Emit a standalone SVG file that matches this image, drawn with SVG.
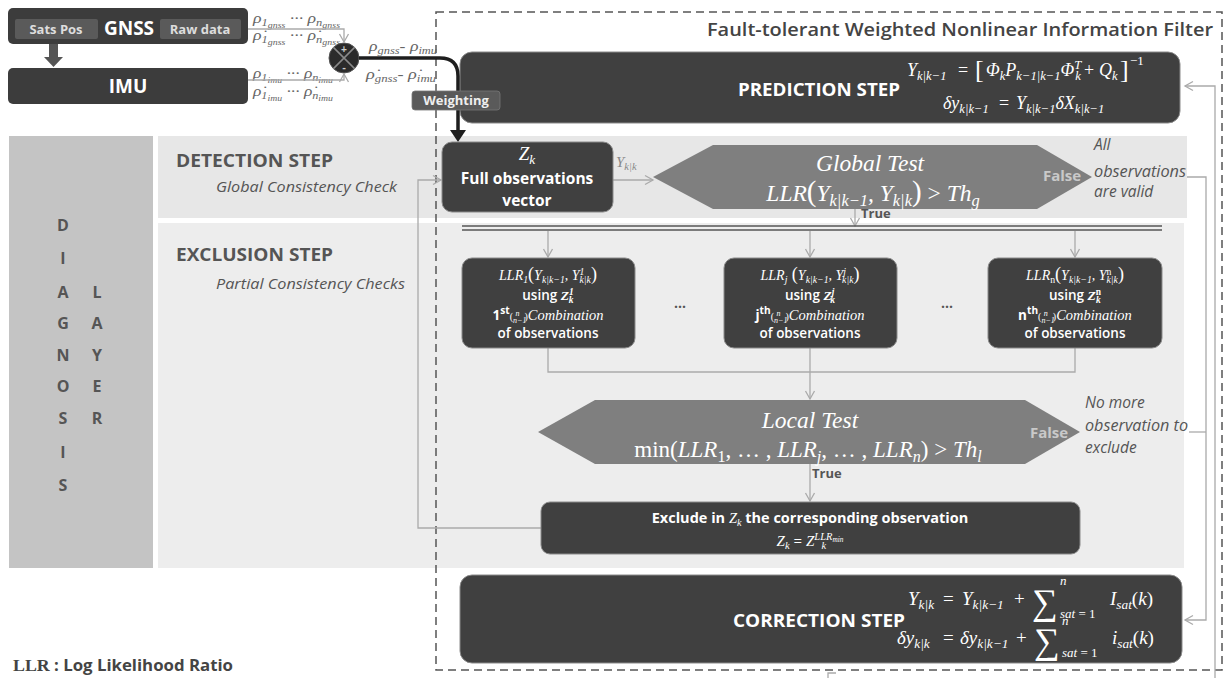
<svg xmlns="http://www.w3.org/2000/svg" width="1229" height="678" viewBox="0 0 1229 678">
<defs>
<style>
.sans{font-family:"Open Sans","Liberation Sans",sans-serif}
.m{font-family:"Liberation Serif","DejaVu Serif",serif;font-style:italic}
.r{font-style:normal}
.dk{fill:#404040;stroke:#8a8a8a;stroke-width:1}
.hex{fill:#7f7f7f}
.wb{fill:#fff;font-weight:700}
.lbl{fill:#555;font-weight:700}
.it{fill:#555;font-style:italic}
.conn{fill:none;stroke:#aaaaaa;stroke-width:1.3}
.sub{font-size:70%;baseline-shift:-0.3em}
.sup{font-size:70%;baseline-shift:0.55em}
.ss{font-size:80%;baseline-shift:-0.25em}
.ml{fill:#fff}
.fal{fill:#c9c9c9;font-weight:700;font-size:15px}
.dg{fill:#555;font-weight:700;font-size:16px;text-anchor:middle}
.sig{font-family:"Liberation Serif","DejaVu Serif",serif;fill:#fff;font-size:36px}
.eq{font-size:19px}
.lim{font-size:13px}
</style>
<marker id="chev" markerWidth="12" markerHeight="12" refX="9" refY="5" orient="auto" markerUnits="userSpaceOnUse" viewBox="0 0 12 10">
<path d="M1,0.5 L9,5 L1,9.5" fill="none" stroke="#aaaaaa" stroke-width="1.3"/>
</marker>
</defs>

<rect width="1229" height="678" fill="#fff"/>

<!-- diagnosis layer bands -->
<g id="bands">
<rect x="9" y="136" width="144" height="432" fill="#c4c4c4"/>
<rect x="158" y="136" width="1029" height="82" fill="#e7e7e7"/>
<rect x="158" y="223" width="1026" height="345" fill="#ededed"/>
</g>

<g id="diagnosis-label" class="sans">
<text class="dg" x="63" y="231">D</text>
<text class="dg" x="63" y="264">I</text>
<text class="dg" x="63" y="298">A</text>
<text class="dg" x="63" y="329">G</text>
<text class="dg" x="63" y="361">N</text>
<text class="dg" x="63" y="392">O</text>
<text class="dg" x="63" y="424">S</text>
<text class="dg" x="63" y="458">I</text>
<text class="dg" x="63" y="491">S</text>
<text class="dg" x="97" y="298">L</text>
<text class="dg" x="97" y="329">A</text>
<text class="dg" x="97" y="361">Y</text>
<text class="dg" x="97" y="392">E</text>
<text class="dg" x="97" y="424">R</text>
</g>

<g id="step-labels" class="sans">
<text class="lbl" x="176" y="167" font-size="17" textLength="157" lengthAdjust="spacingAndGlyphs">DETECTION STEP</text>
<text class="it" x="216" y="192" font-size="15" textLength="181" lengthAdjust="spacingAndGlyphs">Global Consistency Check</text>
<text class="lbl" x="176" y="261" font-size="17" textLength="157" lengthAdjust="spacingAndGlyphs">EXCLUSION STEP</text>
<text class="it" x="216" y="289" font-size="15" textLength="189" lengthAdjust="spacingAndGlyphs">Partial Consistency Checks</text>
</g>

<!-- filter frame -->
<rect id="filter-frame" x="436" y="12" width="786" height="658" fill="none" stroke="#555" stroke-width="1.5" stroke-dasharray="8 5"/>
<text id="filter-title" class="sans" x="1213" y="36" font-size="18" font-weight="600" fill="#444" text-anchor="end" textLength="506" lengthAdjust="spacingAndGlyphs">Fault-tolerant Weighted Nonlinear Information Filter</text>

<!-- sensors -->
<g id="gnss" class="sans">
<rect x="8" y="8" width="240" height="36" rx="5" fill="#3c3c3c"/>
<rect x="15" y="19" width="83" height="20" rx="2" fill="#5a5a5a"/>
<rect x="160" y="19" width="81" height="20" rx="2" fill="#5a5a5a"/>
<text x="56" y="34" font-size="13" font-weight="700" fill="#ddd" text-anchor="middle">Sats Pos</text>
<text x="129" y="35" font-size="19" font-weight="700" fill="#fff" text-anchor="middle">GNSS</text>
<text x="200" y="34" font-size="13" font-weight="700" fill="#ddd" text-anchor="middle">Raw data</text>
</g>
<g id="gnss-to-imu">
<rect x="49" y="44" width="9" height="14" fill="#555"/>
<polygon points="44,57 63,57 53.5,67" fill="#555"/>
</g>
<g id="imu" class="sans">
<rect x="8" y="68" width="240" height="36" rx="5" fill="#3c3c3c"/>
<text x="128" y="93" font-size="19" font-weight="700" fill="#fff" text-anchor="middle">IMU</text>
</g>

<g id="pseudoranges" class="m" fill="#666" font-size="14">
<text x="253" y="23" textLength="87" lengthAdjust="spacingAndGlyphs">ρ<tspan class="sub">1<tspan class="ss">gnss</tspan></tspan> ··· ρ<tspan class="sub">n<tspan class="ss">gnss</tspan></tspan></text>
<text x="253" y="40" textLength="87" lengthAdjust="spacingAndGlyphs">ρ̇<tspan class="sub">1<tspan class="ss">gnss</tspan></tspan> ··· ρ̇<tspan class="sub">n<tspan class="ss">gnss</tspan></tspan></text>
<text x="253" y="78" textLength="80" lengthAdjust="spacingAndGlyphs">ρ<tspan class="sub">1<tspan class="ss">imu</tspan></tspan> ··· ρ<tspan class="sub">n<tspan class="ss">imu</tspan></tspan></text>
<text x="253" y="96" textLength="80" lengthAdjust="spacingAndGlyphs">ρ̇<tspan class="sub">1<tspan class="ss">imu</tspan></tspan> ··· ρ̇<tspan class="sub">n<tspan class="ss">imu</tspan></tspan></text>
<text x="369" y="51" textLength="68" lengthAdjust="spacingAndGlyphs">ρ<tspan class="sub">gnss</tspan>- ρ<tspan class="sub">imu</tspan></text>
<text x="366" y="79" textLength="70" lengthAdjust="spacingAndGlyphs">ρ̇<tspan class="sub">gnss</tspan>- ρ̇<tspan class="sub">imu</tspan></text>
</g>

<g id="sum-junction">
<circle cx="344" cy="58" r="15" fill="#2b2b2b" stroke="#555" stroke-width="1"/>
<path d="M333.4,47.4 L354.6,68.6 M354.6,47.4 L333.4,68.6" stroke="#8a8a8a" stroke-width="1.5"/>
<text x="344" y="53" font-family="Liberation Sans,sans-serif" font-size="10" font-weight="700" fill="#ccc" text-anchor="middle">+</text>
<text x="344" y="71" font-family="Liberation Sans,sans-serif" font-size="11" font-weight="700" fill="#ccc" text-anchor="middle">-</text>
</g>

<g id="prediction-step">
<rect class="dk" x="460" y="52" width="720" height="71" rx="12"/>
<text class="sans wb" x="738" y="96" font-size="18" textLength="162" lengthAdjust="spacingAndGlyphs">PREDICTION STEP</text>
<g class="m ml" font-size="18">
<text x="907" y="76">Y<tspan class="sub">k|k−1</tspan></text>
<text class="r" x="958" y="76">=</text>
<text class="r" x="975" y="78" font-size="26">[</text>
<text x="986" y="76">Φ<tspan class="sub">k</tspan>P<tspan class="sub">k−1|k−1</tspan>Φ<tspan class="sup">T</tspan><tspan class="sub" dx="-6">k</tspan></text>
<text class="r" x="1084" y="76">+</text>
<text x="1099" y="76">Q<tspan class="sub">k</tspan></text>
<text class="r" x="1120" y="78" font-size="26">]</text>
<text class="r" x="1130" y="65" font-size="13">−1</text>
<text x="943" y="109">δy<tspan class="sub">k|k−1</tspan></text>
<text class="r" x="999" y="109">=</text>
<text x="1016" y="109">Y<tspan class="sub">k|k−1</tspan>δX<tspan class="sub">k|k−1</tspan></text>
</g>
</g>

<!-- connectors -->
<g id="connectors">
<path class="conn" d="M248,29 H344 V42" marker-end="url(#chev)"/>
<path class="conn" d="M248,80 H344 V74" marker-end="url(#chev)"/>
<path d="M359,58 H440 Q458,58 458,76 V132" fill="none" stroke="#1e1e1e" stroke-width="3.5"/>
<polygon points="450,130 466,130 458,142" fill="#1e1e1e"/>
<path class="conn" d="M541,528 H418 V180 H441" marker-end="url(#chev)"/>
<path class="conn" d="M613,180 H653" marker-end="url(#chev)"/>
<path class="conn" d="M855,209 V226" marker-end="url(#chev)"/>
<path d="M462,226 H1162 M462,230 H1162" stroke="#555" stroke-width="1.4"/>
<path class="conn" d="M548,231 V257" marker-end="url(#chev)"/>
<path class="conn" d="M810,231 V257" marker-end="url(#chev)"/>
<path class="conn" d="M1075,231 V257" marker-end="url(#chev)"/>
<path class="conn" d="M548,348 V372 H1075 V348"/>
<path class="conn" d="M810,348 V399" marker-end="url(#chev)"/>
<path class="conn" d="M810,464 V501" marker-end="url(#chev)"/>
<path class="conn" d="M1187,177 H1206 V620 H1185" marker-end="url(#chev)"/>
<path class="conn" d="M1189,432 H1206"/>
<path class="conn" d="M1215,678 V86 H1185" marker-end="url(#chev)"/>
<path class="conn" d="M836,673 H828 V678"/>
</g>

<g id="weighting" class="sans">
<rect x="412" y="91" width="88" height="19" rx="3" fill="#5a5a5a" stroke="#777" stroke-width="0.8"/>
<text x="456" y="105" font-size="13" font-weight="700" fill="#eee" text-anchor="middle">Weighting</text>
</g>

<g id="observations-vector">
<rect class="dk" x="442" y="142" width="171" height="70" rx="10"/>
<text class="m ml" x="527" y="160" font-size="19" text-anchor="middle">Z<tspan class="sub">k</tspan></text>
<text class="sans wb" x="527" y="184" font-size="15.5" text-anchor="middle">Full observations</text>
<text class="sans wb" x="527" y="206" font-size="15.5" text-anchor="middle">vector</text>
<text class="m" x="616" y="167" font-size="15" fill="#888">Y<tspan class="sub">k|k</tspan></text>
</g>

<g id="global-test">
<polygon class="hex" points="653,177 713,145 1037,145 1092,177 1037,209 713,209"/>
<text class="m ml" x="870" y="171" font-size="23.5" text-anchor="middle">Global Test</text>
<text class="m ml" x="873" y="201" font-size="23.5" text-anchor="middle">LLR<tspan class="r" font-size="29">(</tspan>Y<tspan class="sub">k|k−1</tspan>, Y<tspan class="sub">k|k</tspan><tspan class="r" font-size="29">)</tspan><tspan class="r"> &gt; </tspan>Th<tspan class="sub">g</tspan></text>
<text class="sans fal" x="1043" y="181">False</text>
<text class="sans lbl" x="861" y="218" font-size="13">True</text>
<text class="sans it" x="1094" y="150" font-size="15.5">All</text>
<text class="sans it" x="1094" y="177" font-size="15.5" textLength="92" lengthAdjust="spacingAndGlyphs">observations</text>
<text class="sans it" x="1094" y="197" font-size="15.5">are valid</text>
</g>

<g id="partial-test-1">
<rect class="dk" x="462" y="258" width="173" height="90" rx="10"/>
<text class="m ml" x="548" y="280" font-size="14" text-anchor="middle">LLR<tspan class="sub">1</tspan><tspan class="r" font-size="18">(</tspan>Y<tspan class="sub">k|k−1</tspan>, Y<tspan class="sup">1</tspan><tspan class="sub" dx="-5">k|k</tspan><tspan class="r" font-size="18">)</tspan></text>
<text class="sans ml" x="548" y="300" font-size="13.5" font-weight="600" text-anchor="middle">using <tspan class="m">Z</tspan><tspan class="m sup">1</tspan><tspan class="m sub" dx="-5">k</tspan></text>
<text class="ml" x="548" y="320" font-size="14.5" text-anchor="middle"><tspan class="sans" font-weight="700" font-size="13.5">1</tspan><tspan class="sans sup" font-weight="700">st</tspan><tspan class="m r" font-size="10">(</tspan><tspan class="m" font-size="8" style="baseline-shift:-3px">n−1</tspan><tspan class="m" font-size="8" dx="-11" style="baseline-shift:4px">n</tspan><tspan class="m r" font-size="10" dx="5">)</tspan><tspan class="m">Combination</tspan></text>
<text class="sans ml" x="548" y="338" font-size="13.5" font-weight="600" text-anchor="middle">of  observations</text>
</g>

<g id="partial-test-j">
<rect class="dk" x="724" y="258" width="173" height="90" rx="10"/>
<text class="m ml" x="810" y="280" font-size="14" text-anchor="middle">LLR<tspan class="sub">j</tspan><tspan class="r" font-size="18"> (</tspan>Y<tspan class="sub">k|k−1</tspan>, Y<tspan class="sup">j</tspan><tspan class="sub" dx="-4">k|k</tspan><tspan class="r" font-size="18">)</tspan></text>
<text class="sans ml" x="810" y="300" font-size="13.5" font-weight="600" text-anchor="middle">using <tspan class="m">Z</tspan><tspan class="m sup">j</tspan><tspan class="m sub" dx="-4">k</tspan></text>
<text class="ml" x="810" y="320" font-size="14.5" text-anchor="middle"><tspan class="sans" font-weight="700" font-size="13.5">j</tspan><tspan class="sans sup" font-weight="700">th</tspan><tspan class="m r" font-size="10">(</tspan><tspan class="m" font-size="8" style="baseline-shift:-3px">n−1</tspan><tspan class="m" font-size="8" dx="-11" style="baseline-shift:4px">n</tspan><tspan class="m r" font-size="10" dx="5">)</tspan><tspan class="m">Combination</tspan></text>
<text class="sans ml" x="810" y="338" font-size="13.5" font-weight="600" text-anchor="middle">of observations</text>
</g>

<g id="partial-test-n">
<rect class="dk" x="988" y="258" width="174" height="90" rx="10"/>
<text class="m ml" x="1075" y="280" font-size="14" text-anchor="middle">LLR<tspan class="sub r">n</tspan><tspan class="r" font-size="18">(</tspan>Y<tspan class="sub">k|k−1</tspan>, Y<tspan class="sup r">n</tspan><tspan class="sub" dx="-5">k|k</tspan><tspan class="r" font-size="18">)</tspan></text>
<text class="sans ml" x="1075" y="300" font-size="13.5" font-weight="600" text-anchor="middle">using <tspan class="m">Z</tspan><tspan class="m r sup">n</tspan><tspan class="m sub" dx="-5">k</tspan></text>
<text class="ml" x="1075" y="320" font-size="14.5" text-anchor="middle"><tspan class="sans" font-weight="700" font-size="13.5">n</tspan><tspan class="sans sup" font-weight="700">th</tspan><tspan class="m r" font-size="10">(</tspan><tspan class="m" font-size="8" style="baseline-shift:-3px">n−1</tspan><tspan class="m" font-size="8" dx="-11" style="baseline-shift:4px">n</tspan><tspan class="m r" font-size="10" dx="5">)</tspan><tspan class="m">Combination</tspan></text>
<text class="sans ml" x="1075" y="338" font-size="13.5" font-weight="600" text-anchor="middle">of observations</text>
</g>

<g id="ellipses" class="sans" fill="#555" font-size="14" font-weight="700" text-anchor="middle">
<text x="680" y="308">...</text>
<text x="947" y="308">...</text>
</g>

<g id="local-test">
<polygon class="hex" points="538,432 595,400 1025,400 1080,432 1025,464 595,464"/>
<text class="m ml" x="810" y="428" font-size="23.5" text-anchor="middle">Local Test</text>
<text class="m ml" x="808" y="457" font-size="23" text-anchor="middle"><tspan class="r">min(</tspan>LLR<tspan class="sub r">1</tspan><tspan class="r">, … , </tspan>LLR<tspan class="sub">j</tspan><tspan class="r">, … , </tspan>LLR<tspan class="sub">n</tspan><tspan class="r">) &gt; </tspan>Th<tspan class="sub">l</tspan></text>
<text class="sans fal" x="1030" y="438">False</text>
<text class="sans lbl" x="812" y="478" font-size="13">True</text>
<text class="sans it" x="1085" y="408" font-size="15.5">No more</text>
<text class="sans it" x="1085" y="431" font-size="15.5" textLength="103" lengthAdjust="spacingAndGlyphs">observation to</text>
<text class="sans it" x="1085" y="453" font-size="15.5">exclude</text>
</g>

<g id="exclusion">
<rect class="dk" x="541" y="502" width="539" height="52" rx="9"/>
<text class="sans wb" x="810" y="523" font-size="14.5" text-anchor="middle">Exclude in <tspan class="m" font-weight="400">Z<tspan class="sub">k</tspan></tspan> the corresponding observation</text>
<text class="ml" x="810" y="546" font-size="15" text-anchor="middle"><tspan class="m">Z<tspan class="sub">k</tspan></tspan><tspan class="sans"> = </tspan><tspan class="m">Z<tspan class="sup">LLR<tspan class="sub">min</tspan></tspan><tspan class="sub" dx="-22">k</tspan></tspan></text>
</g>

<g id="correction-step">
<rect class="dk" x="460" y="575" width="722" height="88" rx="12"/>
<text class="sans wb" x="733" y="627" font-size="18" textLength="172" lengthAdjust="spacingAndGlyphs">CORRECTION STEP</text>
<g class="m ml">
<!-- information state update -->
<text class="eq" x="908" y="605">Y<tspan class="sub">k|k</tspan></text>
<text class="eq r" x="943" y="605">=</text>
<text class="eq" x="962" y="605">Y<tspan class="sub">k|k−1</tspan></text>
<text class="eq r" x="1014" y="605">+</text>
<text class="sig" x="1032" y="614">∑</text>
<text class="lim" x="1060" y="585">n</text>
<text class="lim" x="1060" y="618">sat<tspan class="r"> = 1</tspan></text>
<text class="eq" x="1110" y="605">I<tspan class="sub">sat</tspan><tspan class="r">(</tspan>k<tspan class="r">)</tspan></text>
<!-- information vector update -->
<text class="eq" x="897" y="644">δy<tspan class="sub">k|k</tspan></text>
<text class="eq r" x="943" y="644">=</text>
<text class="eq" x="960" y="644">δy<tspan class="sub">k|k−1</tspan></text>
<text class="eq r" x="1016" y="644">+</text>
<text class="sig" x="1034" y="653">∑</text>
<text class="lim" x="1062" y="625">n</text>
<text class="lim" x="1062" y="657">sat<tspan class="r"> = 1</tspan></text>
<text class="eq" x="1112" y="644">i<tspan class="sub">sat</tspan><tspan class="r">(</tspan>k<tspan class="r">)</tspan></text>
</g>
</g>

<text id="legend" x="13" y="671" font-size="16.5" font-weight="700" fill="#444" textLength="220" lengthAdjust="spacingAndGlyphs"><tspan font-family="Liberation Serif,serif" font-size="17.5">LLR</tspan><tspan font-family="Open Sans,Liberation Sans,sans-serif"> : Log Likelihood Ratio</tspan></text>
</svg>
